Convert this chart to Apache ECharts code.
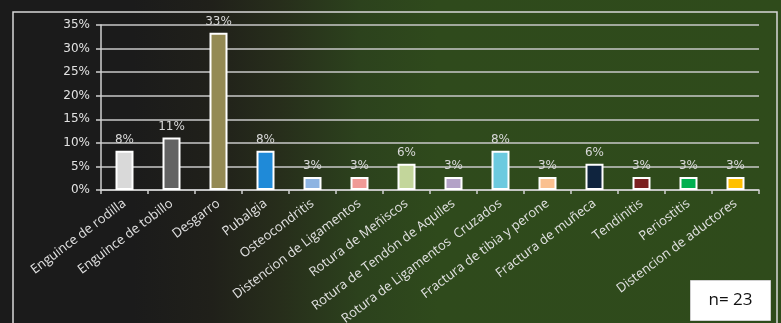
<!DOCTYPE html>
<html>
<head>
<meta charset="utf-8">
<script src="https://cdn.jsdelivr.net/npm/echarts@6/dist/echarts.min.js"></script>
<style>
  html, body { margin: 0; padding: 0; background: #1b1b1b; }
  #chart { width: 781px; height: 323px; }
</style>
</head>
<body>
<div id="chart"></div>
<script>
// Injury types and their share of the 36 recorded cases
const categories = [
  'Enguince de rodilla', 'Enguince de tobillo', 'Desgarro', 'Pubalgia',
  'Osteocondritis', 'Distencion de Ligamentos', 'Rotura de Meñiscos',
  'Rotura de Tendón de Aquiles', 'Rotura de Ligamentos  Cruzados',
  'Fractura de tibia y perone', 'Fractura de muñeca', 'Tendinitis',
  'Periostitis', 'Distencion de aductores'
];
const shares = [
  0.0833, 0.1111, 0.3333, 0.0833, 0.0278, 0.0278, 0.0556,
  0.0278, 0.0833, 0.0278, 0.0556, 0.0278, 0.0278, 0.0278
];
const barColors = [
  '#d9d9d9', '#636363', '#948a54', '#1f8ad8', '#8db4e2', '#f09a96', '#c3d69b',
  '#b3a2c7', '#6ccadf', '#fac090', '#0f243e', '#7b2020', '#00b050', '#ffc000'
];
const yTicks = { min: 0, max: 0.35, step: 0.05 };
const sampleNote = 'n= 23';

const chart = echarts.init(document.getElementById('chart'));

const option = {
  backgroundColor: new echarts.graphic.LinearGradient(0, 0, 1, 0, [
    { offset: 0, color: '#1b1b1b' },
    { offset: 0.17, color: '#1b1b1b' },
    { offset: 0.27, color: '#20201a' },
    { offset: 0.36, color: '#272e1b' },
    { offset: 0.46, color: '#2c421d' },
    { offset: 0.56, color: '#2f4a1c' },
    { offset: 1, color: '#2f4b1b' }
  ]),
  animation: false,
  grid: {
    left: 101, right: 22, top: 25, bottom: 133,
    containLabel: false,
    outerBoundsMode: 'none'
  },
  xAxis: {
    type: 'category',
    data: categories,
    axisLine: { lineStyle: { color: '#d0d0d0', width: 1.5 } },
    axisTick: { show: true, length: 4, lineStyle: { color: '#d0d0d0', width: 1.5 } },
    axisLabel: {
      rotate: 37,
      interval: 0,
      margin: 12,
      color: '#e2e2e2',
      fontSize: 13,
      fontFamily: 'Open Sans'
    }
  },
  yAxis: {
    type: 'value',
    min: yTicks.min,
    max: yTicks.max,
    interval: yTicks.step,
    axisLine: { show: true, lineStyle: { color: '#d0d0d0', width: 1.5 } },
    axisTick: { show: true, length: 5, lineStyle: { color: '#d0d0d0', width: 1.5 } },
    splitLine: { lineStyle: { color: '#c8c8c8', width: 1.5 } },
    axisLabel: {
      margin: 11,
      color: '#e2e2e2',
      fontSize: 12,
      fontFamily: 'DejaVu Sans',
      formatter: v => Math.round(v * 100) + '%'
    }
  },
  series: [{
    type: 'bar',
    barWidth: 18,
    data: shares.map((v, i) => ({
      value: v,
      itemStyle: { color: barColors[i], borderColor: '#ffffff', borderWidth: 2 }
    })),
    label: {
      show: true,
      position: 'top',
      distance: 5,
      color: '#d8d8d8',
      fontSize: 12,
      fontFamily: 'DejaVu Sans',
      formatter: p => (p.value * 100).toFixed(0) + '%'
    }
  }],
  graphic: [
    {
      type: 'rect',
      shape: { x: 13, y: 12, width: 764, height: 330 },
      style: { fill: 'none', stroke: '#d8d8d8', lineWidth: 1.5 },
      silent: true
    },
    {
      type: 'group',
      left: 690,
      top: 280,
      children: [
        {
          type: 'rect',
          shape: { x: 0, y: 0, width: 80, height: 40 },
          style: { fill: '#ffffff', stroke: '#d0d0d0', lineWidth: 1 }
        },
        {
          type: 'text',
          x: 40,
          y: 20,
          style: {
            text: sampleNote,
            fill: '#111111',
            font: '17px "Open Sans"',
            align: 'center',
            verticalAlign: 'middle'
          }
        }
      ]
    }
  ]
};

chart.setOption(option);
</script>
</body>
</html>
